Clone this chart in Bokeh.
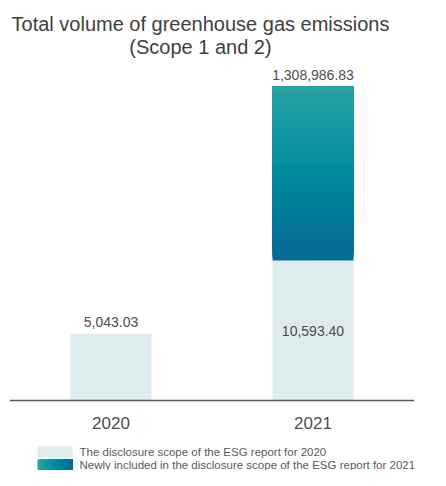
from bokeh.plotting import figure
from bokeh.models import Label
from bokeh.embed import file_html
from bokeh.resources import INLINE
from bokeh.core.properties import value

# ---- data ----
years = ["2020", "2021"]
scope_2020 = [5043.03, 10593.40]          # disclosure scope of the 2020 report
newly_included_2021 = [0.0, 1298393.43]   # added in 2021 scope
totals = [5043.03, 1308986.83]
value_labels = ["5,043.03", "1,308,986.83"]
inner_labels = ["", "10,593.40"]
title_lines = ["Total volume of greenhouse gas emissions", "(Scope 1 and 2)"]
legend_labels = ["The disclosure scope of the ESG report for 2020",
                 "Newly included in the disclosure scope of the ESG report for 2021"]

# ---- style / layout ----
W, H = 430, 470
FONT = "Liberation Sans"
TXT = "#4d4d4d"
LIGHT = "#deeced"
GRAD_TOP = (42, 165, 168)
GRAD_MID = (0, 139, 156)
GRAD_BOT = (6, 104, 150)
BAR_W = 0.40
X_PX = 202.0                          # px per category step
X0_PX = 110.5                         # px of first category centre
Y_PX = 140.0 / scope_2020[1]          # px per tonne (linear part)
BASE_PX = 70.0                        # baseline distance from figure bottom
BREAK_PX = 174.0                      # drawn height of the compressed (broken) segment

x_start = -X0_PX / X_PX
x_end = x_start + W / X_PX
y_start = -BASE_PX / Y_PX
y_end = y_start + H / Y_PX

def sx(px):
    return x_start + px / X_PX

def sy(top_px):
    return y_start + (H - top_px) / Y_PX

def mix(c1, c2, t):
    return "#%02x%02x%02x" % tuple(int(round(a + (b - a) * t)) for a, b in zip(c1, c2))

def grad(t):  # t: 0 bottom -> 1 top
    if t < 0.5:
        return mix(GRAD_BOT, GRAD_MID, t / 0.5)
    return mix(GRAD_MID, GRAD_TOP, (t - 0.5) / 0.5)

p = figure(width=W, height=H, x_range=(x_start, x_end), y_range=(y_start, y_end),
           output_backend="svg", toolbar_location=None, min_border=0,
           outline_line_color=None, background_fill_color="white",
           border_fill_color="white")
p.axis.visible = False
p.grid.visible = False

xs = list(range(len(years)))

# light (2020-scope) bars
p.vbar(x=xs, top=scope_2020, bottom=0, width=BAR_W, fill_color=LIGHT, line_color=None)

# newly included part (broken / compressed scale), vertical gradient:
# stacked slices, each running to the segment top, drawn bottom -> top
seg_h = BREAK_PX / Y_PX
N = 90
for x, base, add in zip(xs, scope_2020, newly_included_2021):
    if add <= 0:
        continue
    bottoms = [base + seg_h * k / N for k in range(N)]
    cols = [grad((k + 0.5) / N) for k in range(N)]
    p.quad(left=x - BAR_W / 2, right=x + BAR_W / 2, bottom=bottoms, top=base + seg_h,
           fill_color=cols, line_color=None)

# baseline
p.segment(x0=[-0.5], x1=[len(years) - 0.5], y0=[0], y1=[0], line_color="#5a5a5a", line_width=1.5)

# value labels above bars
tops_drawn = [s + (seg_h if n > 0 else 0) for s, n in zip(scope_2020, newly_included_2021)]
p.text(x=xs, y=tops_drawn, text=value_labels, text_align="center", text_baseline="middle",
       y_offset=-12, text_font=value(FONT), text_font_size="14px", text_color=TXT)
# inner label
p.text(x=xs, y=[s / 2 for s in scope_2020], text=inner_labels, text_align="center",
       text_baseline="middle", text_font=value(FONT), text_font_size="14px",
       text_color=TXT)
# year labels
p.text(x=xs, y=[0] * len(xs), text=years, text_align="center", text_baseline="middle",
       y_offset=22, text_font=value(FONT), text_font_size="17px", text_color=TXT)

# title
for j, line in enumerate(title_lines):
    p.add_layout(Label(x=200, y=H - 23.5 - 23 * j, x_units="screen", y_units="screen",
                       text=line, text_align="center", text_baseline="middle",
                       text_font=FONT, text_font_size="20px", text_color="#404040"))

# legend
sw_l, sw_r = 37, 72
rows = [(446, 457), (459, 470)]
p.quad(left=sx(sw_l), right=sx(sw_r), top=sy(rows[0][0]), bottom=sy(rows[0][1]),
       fill_color=LIGHT, line_color=None)
NL = 40
lefts = [sx(sw_l + (sw_r - sw_l) * k / NL) for k in range(NL)]
p.quad(left=lefts, right=sx(sw_r), top=sy(rows[1][0]), bottom=sy(rows[1][1]),
       fill_color=[grad(1 - (k + 0.5) / NL) for k in range(NL)], line_color=None)
for (t, b), lab in zip(rows, legend_labels):
    p.add_layout(Label(x=79, y=H - (t + b) / 2, x_units="screen", y_units="screen",
                       text=lab, text_align="left", text_baseline="middle",
                       text_font=FONT, text_font_size="11.5px", text_color="#5a5a5a"))

open("out.html", "w").write(file_html(p, INLINE))
